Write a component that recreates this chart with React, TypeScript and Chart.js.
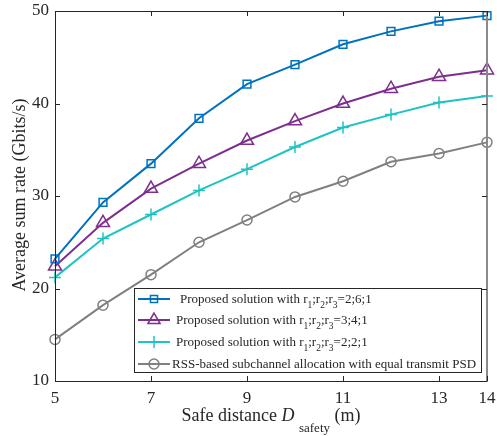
import React, { useEffect, useRef } from 'react';
import { Chart, registerables } from 'chart.js';
import { drawPoint } from 'chart.js/helpers';

Chart.register(...registerables);

const distances = [5, 6, 7, 8, 9, 10, 11, 12, 13, 14];
const rate261 = [23.2, 29.3, 33.5, 38.4, 42.1, 44.2, 46.4, 47.8, 48.9, 49.5];
const rate341 = [22.4, 27.1, 30.8, 33.5, 36.0, 38.1, 40.0, 41.6, 42.9, 43.6];
const rate221 = [21.2, 25.4, 28.0, 30.6, 32.9, 35.3, 37.4, 38.8, 40.1, 40.8];
const rateRSS = [14.5, 18.2, 21.5, 25.0, 27.4, 29.9, 31.6, 33.7, 34.6, 35.8];

const xTicks = [5, 7, 9, 11, 13, 14];
const yTicks = [10, 20, 30, 40, 50];

const ratioLabels = ['2;6;1', '3;4;1', '2;2;1'];
const rssLabel = 'RSS-based subchannel allocation with equal transmit PSD';
const yTitle = 'Average sum rate (Gbits/s)';

const FONT = "'Liberation Serif', 'Times New Roman', serif";
const TXT = '#262626';

type Seg = { t: string; sub?: boolean; italic?: boolean };

function ratioSegs(r: string): Seg[] {
  return [
    { t: 'Proposed solution with r' }, { t: '1', sub: true },
    { t: ';r' }, { t: '2', sub: true },
    { t: ';r' }, { t: '3', sub: true },
    { t: '=' + r },
  ];
}

const seriesStyles = [
  { color: '#0072BD', pointStyle: 'rect', radius: 5.5, legendRadius: 5 },
  { color: '#7E2F8E', pointStyle: 'triangle', radius: 7.5, legendRadius: 7 },
  { color: '#1EC3C3', pointStyle: 'cross', radius: 6, legendRadius: 6 },
  { color: '#808080', pointStyle: 'circle', radius: 5, legendRadius: 5 },
];

function drawSegs(ctx: CanvasRenderingContext2D, segs: Seg[], x: number, y: number, size: number, subSize: number, subDrop: number) {
  let cx = x;
  for (const s of segs) {
    const fs = s.sub ? subSize : size;
    ctx.font = `${s.italic ? 'italic ' : ''}${fs}px ${FONT}`;
    ctx.fillText(s.t, cx, s.sub ? y + subDrop : y);
    cx += ctx.measureText(s.t).width;
  }
  return cx - x;
}

function segsWidth(ctx: CanvasRenderingContext2D, segs: Seg[], size: number, subSize: number) {
  let w = 0;
  for (const s of segs) {
    const fs = s.sub ? subSize : size;
    ctx.font = `${s.italic ? 'italic ' : ''}${fs}px ${FONT}`;
    w += ctx.measureText(s.t).width;
  }
  return w;
}

const framePlugin = {
  id: 'frame',
  afterDraw(chart: any) {
    const { ctx, chartArea: a, scales } = chart;
    const xs = scales.x, ys = scales.y;
    ctx.save();
    // box
    ctx.lineWidth = 1;
    ctx.strokeStyle = TXT;
    ctx.beginPath();
    ctx.moveTo(a.right, a.top + 0.5);
    ctx.lineTo(a.left + 0.5, a.top + 0.5);
    ctx.lineTo(a.left + 0.5, a.bottom + 0.5);
    ctx.lineTo(a.right, a.bottom + 0.5);
    ctx.stroke();
    ctx.strokeStyle = '#8a8a8a';
    ctx.lineWidth = 2;
    ctx.beginPath();
    ctx.moveTo(a.right, a.top);
    ctx.lineTo(a.right, a.bottom + 1);
    ctx.stroke();
    // ticks
    ctx.lineWidth = 1;
    ctx.strokeStyle = TXT;
    const tl = 5;
    ctx.beginPath();
    for (const v of xTicks) {
      const px = Math.round(xs.getPixelForValue(v)) + 0.5;
      ctx.moveTo(px, a.bottom);
      ctx.lineTo(px, a.bottom - tl);
      ctx.moveTo(px, a.top);
      ctx.lineTo(px, a.top + tl);
    }
    for (const v of yTicks) {
      const py = Math.round(ys.getPixelForValue(v)) + 0.5;
      ctx.moveTo(a.left, py);
      ctx.lineTo(a.left + tl, py);
      ctx.moveTo(a.right, py);
      ctx.lineTo(a.right - tl, py);
    }
    ctx.stroke();

    // axis titles
    ctx.fillStyle = TXT;
    ctx.textBaseline = 'alphabetic';
    const xSegs: Seg[] = [
      { t: 'Safe distance ' }, { t: 'D', italic: true }, { t: ' ' },
      { t: 'safety', sub: true }, { t: ' (m)' },
    ];
    const xw = segsWidth(ctx, xSegs, 18, 13);
    drawSegs(ctx, xSegs, (a.left + a.right) / 2 - xw / 2, 421, 18, 13, 11);

    ctx.save();
    ctx.translate(25, 195);
    ctx.rotate(-Math.PI / 2);
    ctx.font = `18px ${FONT}`;
    ctx.textAlign = 'center';
    ctx.fillText(yTitle, 0, 0);
    ctx.restore();

    // legend
    const L = 134, T = 288, R = 481, B = 372;
    ctx.fillStyle = '#ffffff';
    ctx.fillRect(L, T, R - L, B - T);
    ctx.strokeStyle = TXT;
    ctx.lineWidth = 1;
    ctx.strokeRect(L + 0.5, T + 0.5, R - L, B - T);
    const rows = [299, 320, 342, 364];
    const textX = [180, 176, 176, 172];
    const labels: Seg[][] = [...ratioLabels.map(ratioSegs), [{ t: rssLabel }]];
    rows.forEach((ry, i) => {
      const st = seriesStyles[i];
      ctx.strokeStyle = st.color;
      ctx.lineWidth = 2;
      ctx.beginPath();
      ctx.moveTo(138, ry);
      ctx.lineTo(170, ry);
      ctx.stroke();
      ctx.lineWidth = 1.5;
      ctx.fillStyle = 'rgba(0,0,0,0)';
      drawPoint(ctx, { pointStyle: st.pointStyle as any, radius: st.legendRadius, rotation: 0, borderWidth: 1.5 }, 154, ry);
      ctx.fillStyle = TXT;
      ctx.textBaseline = 'alphabetic';
      drawSegs(ctx, labels[i], textX[i], ry + 3.5, 13, 9.5, 5);
    });
    ctx.restore();
  },
};

export default function App() {
  const ref = useRef<HTMLCanvasElement>(null);
  useEffect(() => {
    if (!ref.current) return;
    const series = [rate261, rate341, rate221, rateRSS];
    const names = [...ratioLabels.map((r) => 'Proposed solution with r1;r2;r3=' + r), rssLabel];
    const chart = new Chart(ref.current, {
      type: 'line',
      data: {
        labels: distances,
        datasets: series.map((vals, i) => ({
          label: names[i],
          data: vals.map((v, j) => ({ x: distances[j], y: v })),
          borderColor: seriesStyles[i].color,
          backgroundColor: 'rgba(0,0,0,0)',
          pointBorderColor: seriesStyles[i].color,
          pointBackgroundColor: 'rgba(0,0,0,0)',
          pointStyle: seriesStyles[i].pointStyle as any,
          pointRadius: seriesStyles[i].radius,
          pointBorderWidth: 1.5,
          borderWidth: 2,
          tension: 0,
          clip: false as any,
        })),
      },
      options: {
        animation: false,
        responsive: false,
        devicePixelRatio: 1,
        layout: { padding: { top: 11, right: 10, left: 0, bottom: 0 } },
        plugins: { legend: { display: false }, tooltip: { enabled: false }, title: { display: false } },
        scales: {
          x: {
            type: 'linear',
            min: 5,
            max: 14,
            grid: { display: false, drawTicks: false },
            border: { display: false },
            afterBuildTicks: (s: any) => { s.ticks = xTicks.map((v) => ({ value: v })); },
            afterFit: (s: any) => {
              s.height = 55;
              s.paddingLeft = 0;
              s.paddingRight = 0;
              s.paddingTop = 0;
              s.paddingBottom = 0;
            },
            ticks: { color: TXT, font: { family: FONT, size: 17 }, padding: 7, maxRotation: 0, autoSkip: false },
          },
          y: {
            type: 'linear',
            min: 10,
            max: 50,
            grid: { display: false, drawTicks: false },
            border: { display: false },
            afterBuildTicks: (s: any) => { s.ticks = yTicks.map((v) => ({ value: v })); },
            afterFit: (s: any) => {
              s.width = 55;
              s.paddingLeft = 0;
              s.paddingRight = 0;
              s.paddingTop = 0;
              s.paddingBottom = 0;
            },
            ticks: { color: TXT, font: { family: FONT, size: 17 }, padding: 6 },
          },
        },
      },
      plugins: [framePlugin],
    });
    return () => chart.destroy();
  }, []);
  return (
    <div style={{ position: 'absolute', left: 0, top: 0, width: 497, height: 436, background: '#fff' }}>
      <canvas ref={ref} width={497} height={436} style={{ width: 497, height: 436 }} />
    </div>
  );
}
